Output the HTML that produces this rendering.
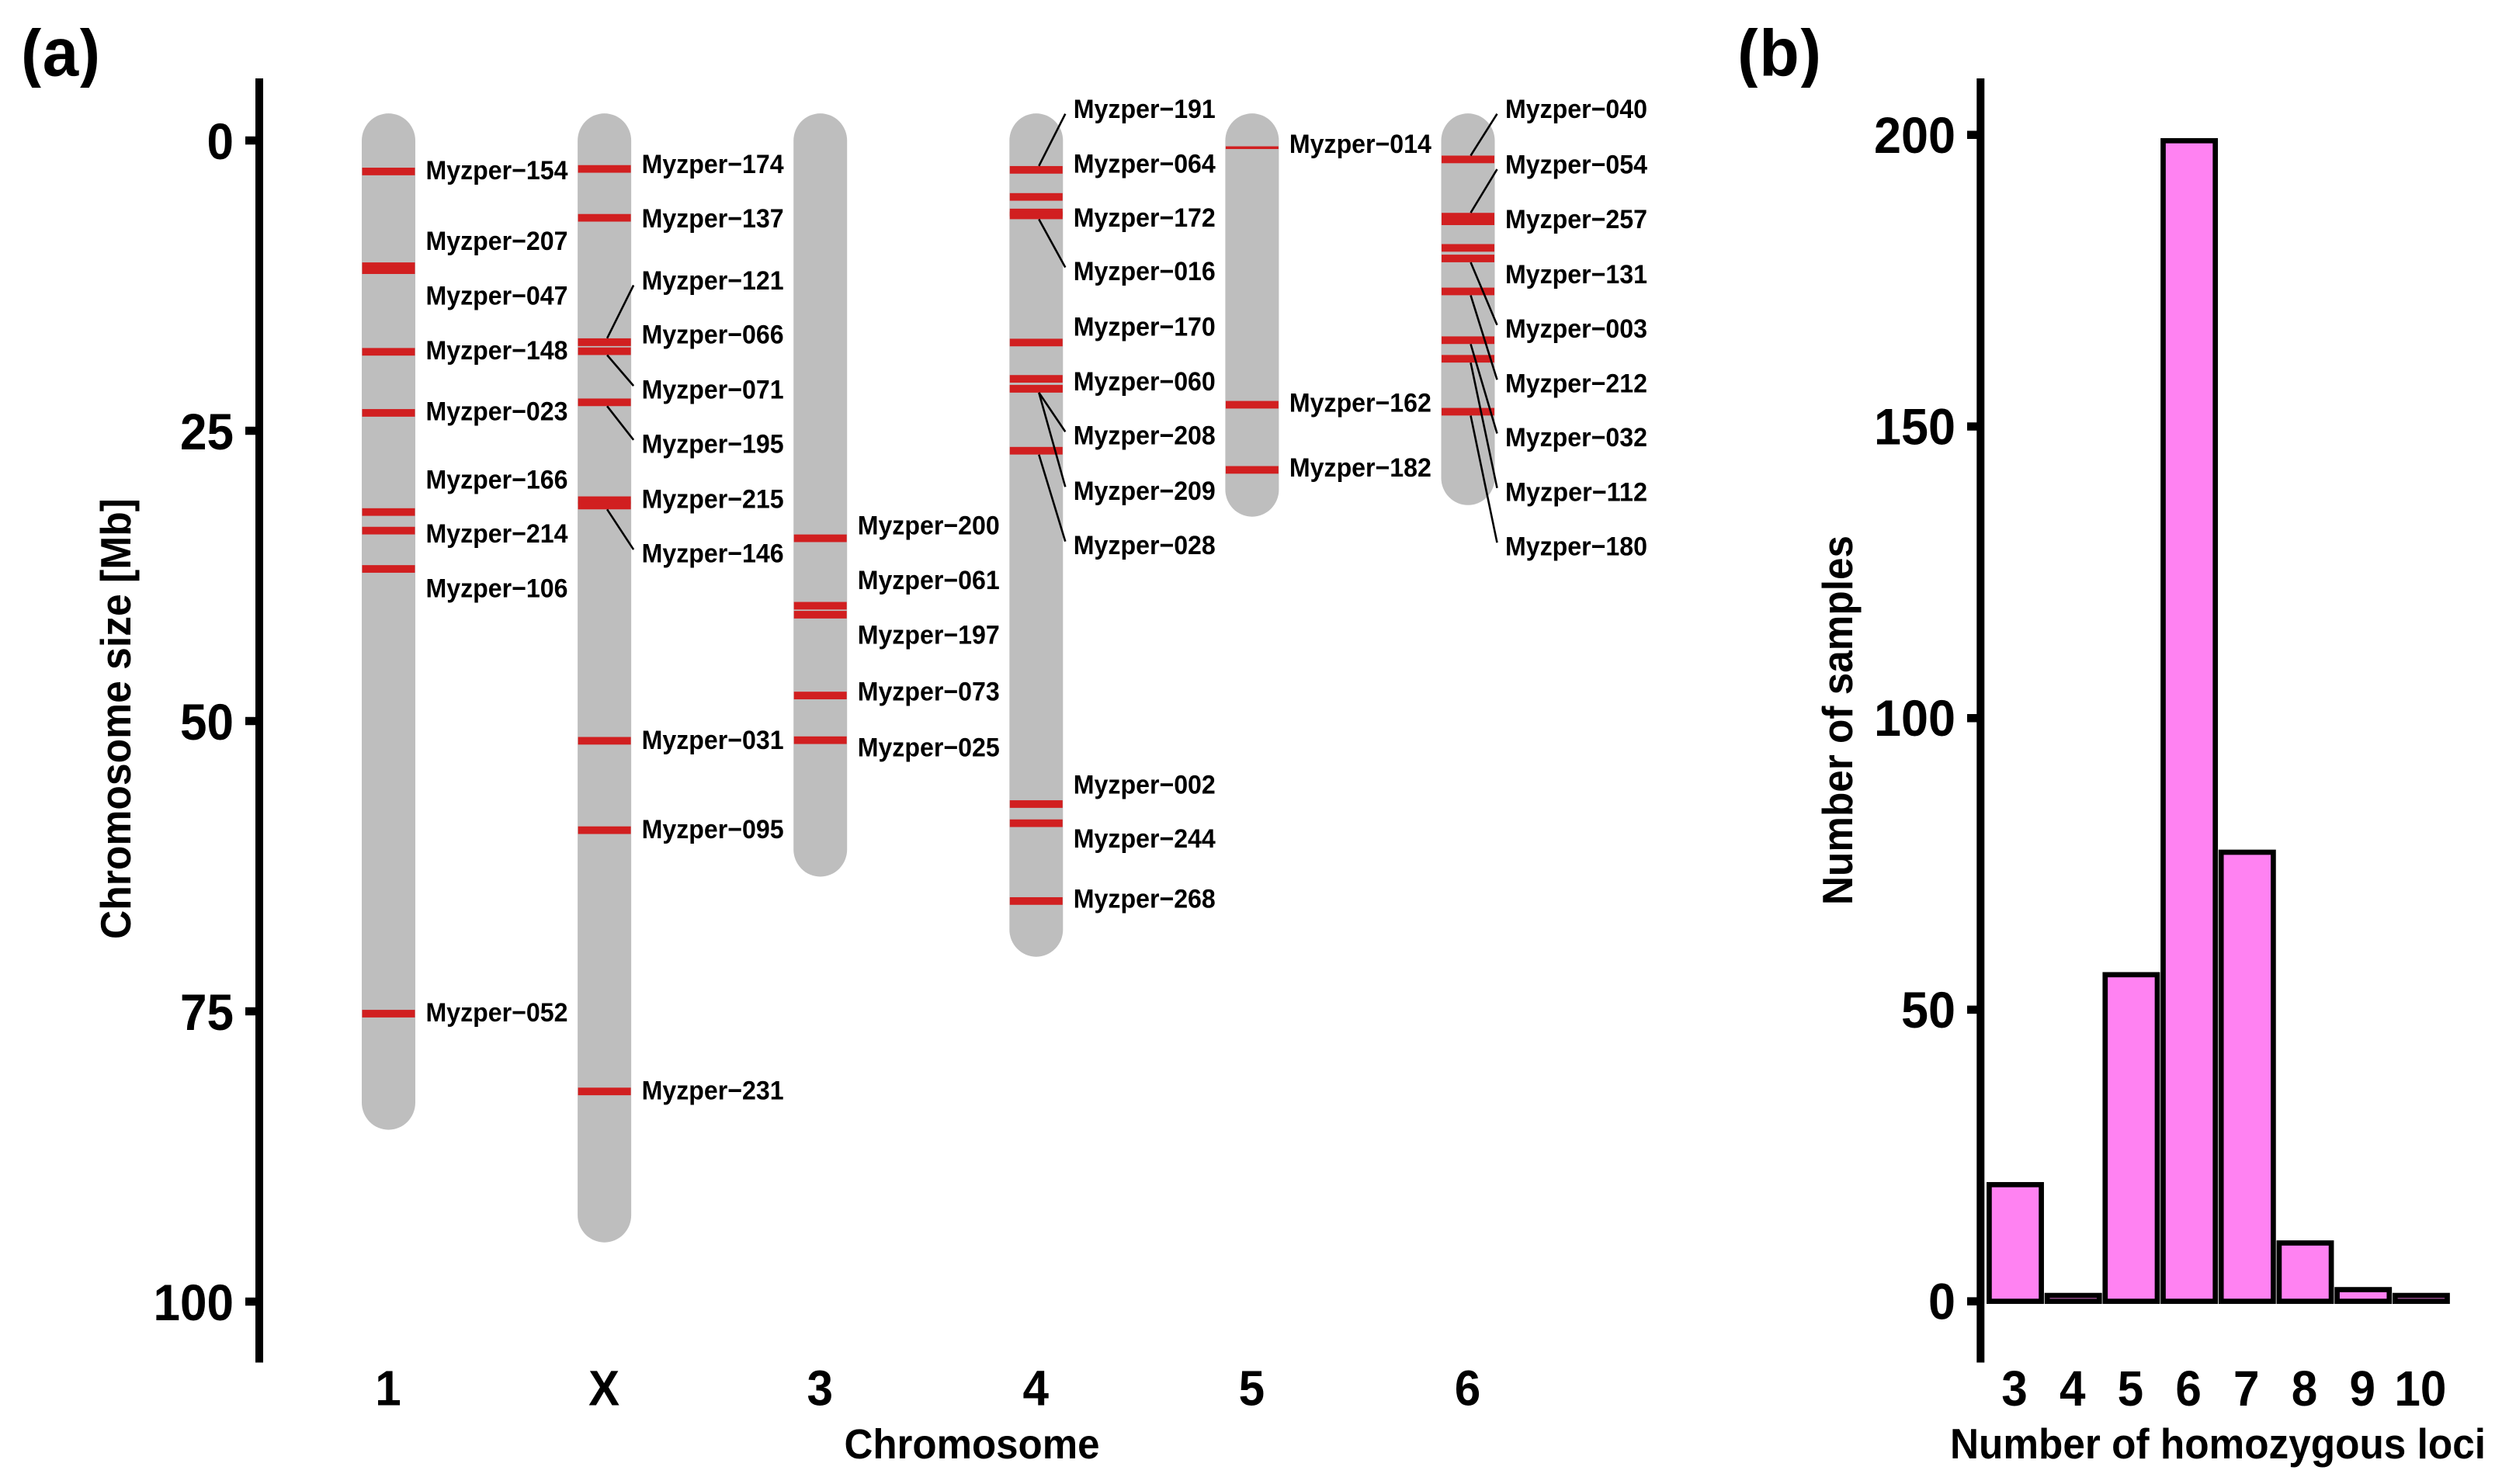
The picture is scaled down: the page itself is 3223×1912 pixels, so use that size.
<!DOCTYPE html>
<html lang="en">
<head>
<meta charset="utf-8">
<title>Chromosome map and homozygous loci histogram</title>
<style>
  html, body { margin: 0; padding: 0; background: #fff; }
  svg { display: block; }
  text { font-family: "Liberation Sans", Arial, sans-serif; font-weight: bold; fill: #000; }
</style>
</head>
<body>
<svg id="chart" xmlns="http://www.w3.org/2000/svg" width="3223" height="1912" viewBox="0 0 3223 1912">
  <defs>
    <clipPath id="panel-label-clip"><rect x="0" y="36" width="3223" height="77"/></clipPath>
  </defs>
  <rect x="0" y="0" width="3223" height="1912" fill="#ffffff"/>
  <g clip-path="url(#panel-label-clip)">
    <text x="27" y="97.4" font-size="88" textLength="102" lengthAdjust="spacingAndGlyphs">(a)</text>
    <text x="2238" y="97.4" font-size="88" textLength="108" lengthAdjust="spacingAndGlyphs">(b)</text>
  </g>
  <text transform="translate(168,926) rotate(-90)" text-anchor="middle" font-size="55" textLength="568" lengthAdjust="spacingAndGlyphs">Chromosome size [Mb]</text>
  <text x="1252" y="1879" text-anchor="middle" font-size="54" textLength="329" lengthAdjust="spacingAndGlyphs">Chromosome</text>
  <text transform="translate(2386,928) rotate(-90)" text-anchor="middle" font-size="55" textLength="476" lengthAdjust="spacingAndGlyphs">Number of samples</text>
  <text x="2857" y="1879" text-anchor="middle" font-size="55" textLength="690" lengthAdjust="spacingAndGlyphs">Number of homozygous loci</text>
  <g id="panel-a"></g>
  <g id="panel-b"></g>
</svg>
<script>
// Panel (a) data: megabases
const chromosomes = ['1', 'X', '3', '4', '5', '6'];
const chromosomeLengths = [85.2, 94.9, 63.4, 70.3, 32.4, 31.4];
const chromosomeTicks = [0, 25, 50, 75, 100];
const markerNames = [
  ['154','207','047','148','023','166','214','106','052'],
  ['174','137','121','066','071','195','215','146','031','095','231'],
  ['200','061','197','073','025'],
  ['191','064','172','016','170','060','208','209','028','002','244','268'],
  ['014','162','182'],
  ['040','054','257','131','003','212','032','112','180']
];
const markerPositions = [
  [2.67,10.83,11.17,18.2,23.46,32.0,33.6,36.9,75.2],
  [2.45,6.66,17.37,17.37,18.15,22.55,30.98,31.44,51.7,59.4,81.9],
  [34.26,40.07,40.84,47.8,51.65],
  [2.53,4.86,6.2,6.45,17.4,20.53,21.38,21.38,26.72,57.15,58.8,65.5],
  [0.62,22.76,28.37],
  [1.63,6.56,6.96,9.25,10.16,13.0,17.2,18.8,23.36]
];
const labelPositions = [
  [2.6,8.7,13.4,18.1,23.35,29.26,33.9,38.6,75.15],
  [2.06,6.75,12.1,16.76,21.5,26.16,30.9,35.6,51.67,59.37,81.85],
  [33.2,37.9,42.6,47.5,52.3],
  [-2.66,2.05,6.7,11.3,16.08,20.8,25.45,30.2,34.9,55.5,60.15,65.35],
  [0.32,22.64,28.2],
  [-2.66,2.11,6.82,11.57,16.26,20.97,25.6,30.3,35.0]
];
const markersWithLeaders = ['121','071','195','146','191','016','208','209','028','040','054','003','212','032','112','180'];
const thinMarkers = ['014'];

// Panel (b) data: samples per number of homozygous loci
const lociCategories = ['3', '4', '5', '6', '7', '8', '9', '10'];
const sampleCounts = [20, 1, 56, 199, 77, 10, 2, 1];
const sampleTicks = [0, 50, 100, 150, 200];

const NS = 'http://www.w3.org/2000/svg';
function make(tag, attrs, parent, content) {
  const el = document.createElementNS(NS, tag);
  for (const k in attrs) el.setAttribute(k, attrs[k]);
  if (content !== undefined) el.textContent = content;
  parent.appendChild(el);
  return el;
}

// Axis functions
const yMb = v => 181 + 14.96 * v;
const xChrom = i => 500.5 + 278.1 * i;
const yCount = v => 1676.6 - 7.514 * v;
const xLoci = i => 2596 + 74.7 * i;

const panelA = document.getElementById('panel-a');
const panelB = document.getElementById('panel-b');

// Panel (a) axis
const axisA = make('line', {x1: 334, x2: 334, y1: 101, y2: 1755.5, stroke: '#000', 'stroke-width': 10}, panelA);


chromosomeTicks.forEach(t => {
  const tick = make('line', {x1: 316, x2: 334, y1: yMb(t), y2: yMb(t), stroke: '#000', 'stroke-width': 10.5}, panelA);
  
  
  const txt = String(t);
  const label = make('text', {x: 301, y: yMb(t) + 24, 'text-anchor': 'end', 'font-size': 66, textLength: txt.length * 34.5, lengthAdjust: 'spacingAndGlyphs'}, panelA, txt);
  
  
});

// Chromosomes
chromosomes.forEach((name, i) => {
  const c = xChrom(i);
  const group = make('g', {}, panelA);
  
  
  const top = yMb(-2.33);
  const body = make('rect', {x: c - 34.5, y: top, width: 69, height: yMb(chromosomeLengths[i]) - top, rx: 34.5, ry: 35, fill: '#bebebe'}, group);
  
  
  const tickLabel = make('text', {x: c - 0.5, y: 1810.5, 'text-anchor': 'middle', 'font-size': 64, textLength: name === 'X' ? 40 : 33.5, lengthAdjust: 'spacingAndGlyphs'}, group, name);
  
  

  markerPositions[i].forEach((pos, j) => {
    const id = markerNames[i][j];
    const h = thinMarkers.includes(id) ? 3.5 : 9.8;
    const band = make('rect', {x: c - 34, y: yMb(pos) - h / 2, width: 68, height: h, fill: '#d11f20'}, group);
    
    
  });
  markerPositions[i].forEach((pos, j) => {
    const id = markerNames[i][j];
    const ly = yMb(labelPositions[i][j]);
    if (markersWithLeaders.includes(id)) {
      const sign = ly > yMb(pos) ? 1 : -1;
      const leader = make('line', {x1: c + 3.5, y1: yMb(pos) + sign * 5, x2: c + 37.5, y2: ly - sign * 5.5, stroke: '#000', 'stroke-width': 2.6}, group);
      
      
    }
    const text = make('text', {x: c + 48, y: ly + 11, 'font-size': 34.6, textLength: 183, lengthAdjust: 'spacingAndGlyphs'}, group, 'Myzper\u2212' + id);
    
    
  });
});

// Panel (b) axis
const axisB = make('line', {x1: 2551.3, x2: 2551.3, y1: 101, y2: 1755.5, stroke: '#000', 'stroke-width': 10}, panelB);


sampleTicks.forEach(t => {
  const tick = make('line', {x1: 2534, x2: 2551, y1: yCount(t), y2: yCount(t), stroke: '#000', 'stroke-width': 10.5}, panelB);
  
  
  const txt = String(t);
  const label = make('text', {x: 2519, y: yCount(t) + 23, 'text-anchor': 'end', 'font-size': 66, textLength: txt.length * 35, lengthAdjust: 'spacingAndGlyphs'}, panelB, txt);
  
  
});

// Histogram bars
lociCategories.forEach((cat, i) => {
  const cx = xLoci(i);
  const top = yCount(sampleCounts[i]);
  const bar = make('rect', {x: cx - 33.6, y: top, width: 67.2, height: yCount(0) - top, fill: '#ff82f2', stroke: '#000', 'stroke-width': 6.7}, panelB);
  
  
  const label = make('text', {x: cx - 1, y: 1810.8, 'text-anchor': 'middle', 'font-size': 64, textLength: cat.length * 33.5, lengthAdjust: 'spacingAndGlyphs'}, panelB, cat);
  
  
});
</script>
</body>
</html>
